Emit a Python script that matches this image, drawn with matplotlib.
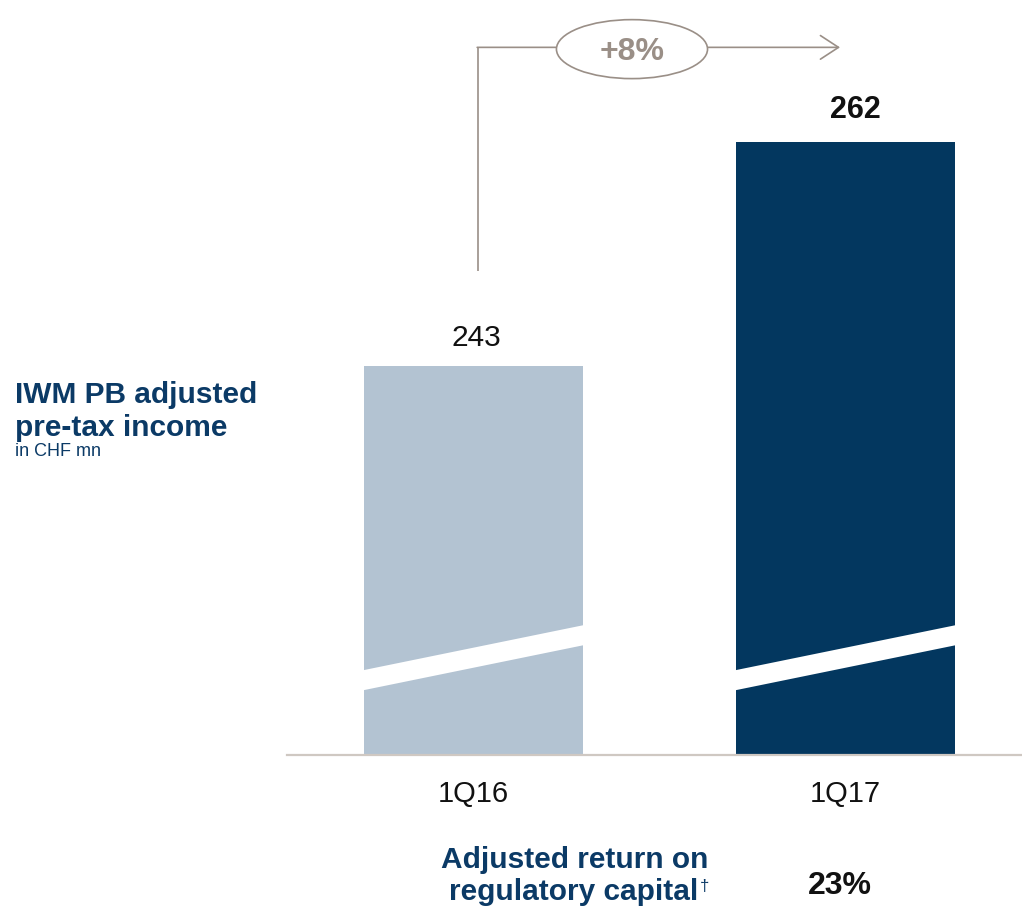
import matplotlib
matplotlib.use("Agg")
import matplotlib.pyplot as plt
from matplotlib.patches import Ellipse, Polygon

plt.rcParams['font.family'] = ['Liberation Sans', 'DejaVu Sans']

# data
periods = ['1Q16', '1Q17']
income = [243, 262]
label_bold = [False, True]
growth = '+8%'
rorc = '23%'

axis_floor = 210      # axis is broken, bars start here
bracket_gap = 8       # bracket sits this far above each bar

navy = '#0B3A66'
bar_colors = ['#B3C3D2', '#03375F']
grey = '#9A8F87'

W, H = 1022, 912
fig = plt.figure(figsize=(W / 100, H / 100), dpi=100)
ax = fig.add_axes([287 / W, (H - 756) / H, (W - 287) / W, 756 / H])

x = [0, 1]
bw = 0.589
ax.bar(x, [v - axis_floor for v in income], bottom=axis_floor, width=bw,
       color=bar_colors, zorder=2)
ax.set_xlim(-0.501, 1.474)
ax.set_ylim(axis_floor, 274.1)

# break marks (white slanted band across each bar)
for i in x:
    lo, hi = axis_floor + 5.5, axis_floor + 9.3
    band = 1.7
    ax.add_patch(Polygon([(i - bw / 2, lo), (i + bw / 2, hi),
                          (i + bw / 2, hi + band), (i - bw / 2, lo + band)],
                         closed=True, facecolor='white', edgecolor='none', zorder=3))

for sp in ['top', 'right', 'left']:
    ax.spines[sp].set_visible(False)
ax.spines['bottom'].set_color('#CFC8C2')
ax.spines['bottom'].set_linewidth(1.6)
ax.set_yticks([])
ax.set_xticks(x)
ax.set_xticklabels(periods, fontsize=21, color='#111111')
ax.tick_params(axis='x', length=0, pad=17)

# value labels
for i, v, b in zip(x, income, label_bold):
    ax.annotate(str(v), (i, v), xytext=(7 if b else 2, 18 if b else 15),
                textcoords='offset points', ha='center', va='baseline',
                fontsize=22 if b else 21.5,
                fontweight='bold' if b else 'normal', color='#111111')

# growth bracket
x0 = 0.012
y_lo = income[0] + bracket_gap
y_top = income[1] + bracket_gap
ax.plot([x0, x0], [y_lo, y_top], color=grey, lw=1.2, solid_capstyle='butt')
ax.annotate('', xy=(0.985, y_top), xytext=(x0 - 0.002, y_top),
            arrowprops=dict(arrowstyle='->,head_length=1.3,head_width=0.85',
                            color=grey, lw=1.2, shrinkA=0, shrinkB=0))
ax.add_patch(Ellipse((0.426, y_top - 0.15), 0.406, 5.0, facecolor='white',
                     edgecolor=grey, lw=1.2, zorder=4))
ax.text(0.426, y_top - 0.35, growth, ha='center', va='center', fontsize=23,
        fontweight='bold', color=grey, zorder=5)

# left title
fig.text(15 / W, 1 - 403 / H, 'IWM PB adjusted', fontsize=21.5, fontweight='bold',
         color=navy, va='baseline')
fig.text(15 / W, 1 - 436 / H, 'pre-tax income', fontsize=21.5, fontweight='bold',
         color=navy, va='baseline')
fig.text(15 / W, 1 - 456 / H, 'in CHF mn', fontsize=13, color=navy, va='baseline')

# bottom row
fig.text(575 / W, 1 - 868 / H, 'Adjusted return on', fontsize=21.5, fontweight='bold',
         color=navy, ha='center', va='baseline')
fig.text(698 / W, 1 - 900 / H, 'regulatory capital', fontsize=21.5, fontweight='bold',
         color=navy, ha='right', va='baseline')
fig.text(700 / W, 1 - 891 / H, '\u2020', fontsize=12, color=navy, va='baseline')
fig.text(840 / W, 1 - 894 / H, rorc, fontsize=23, fontweight='bold',
         color='#111111', ha='center', va='baseline')

fig.savefig('out.png', dpi=100)
